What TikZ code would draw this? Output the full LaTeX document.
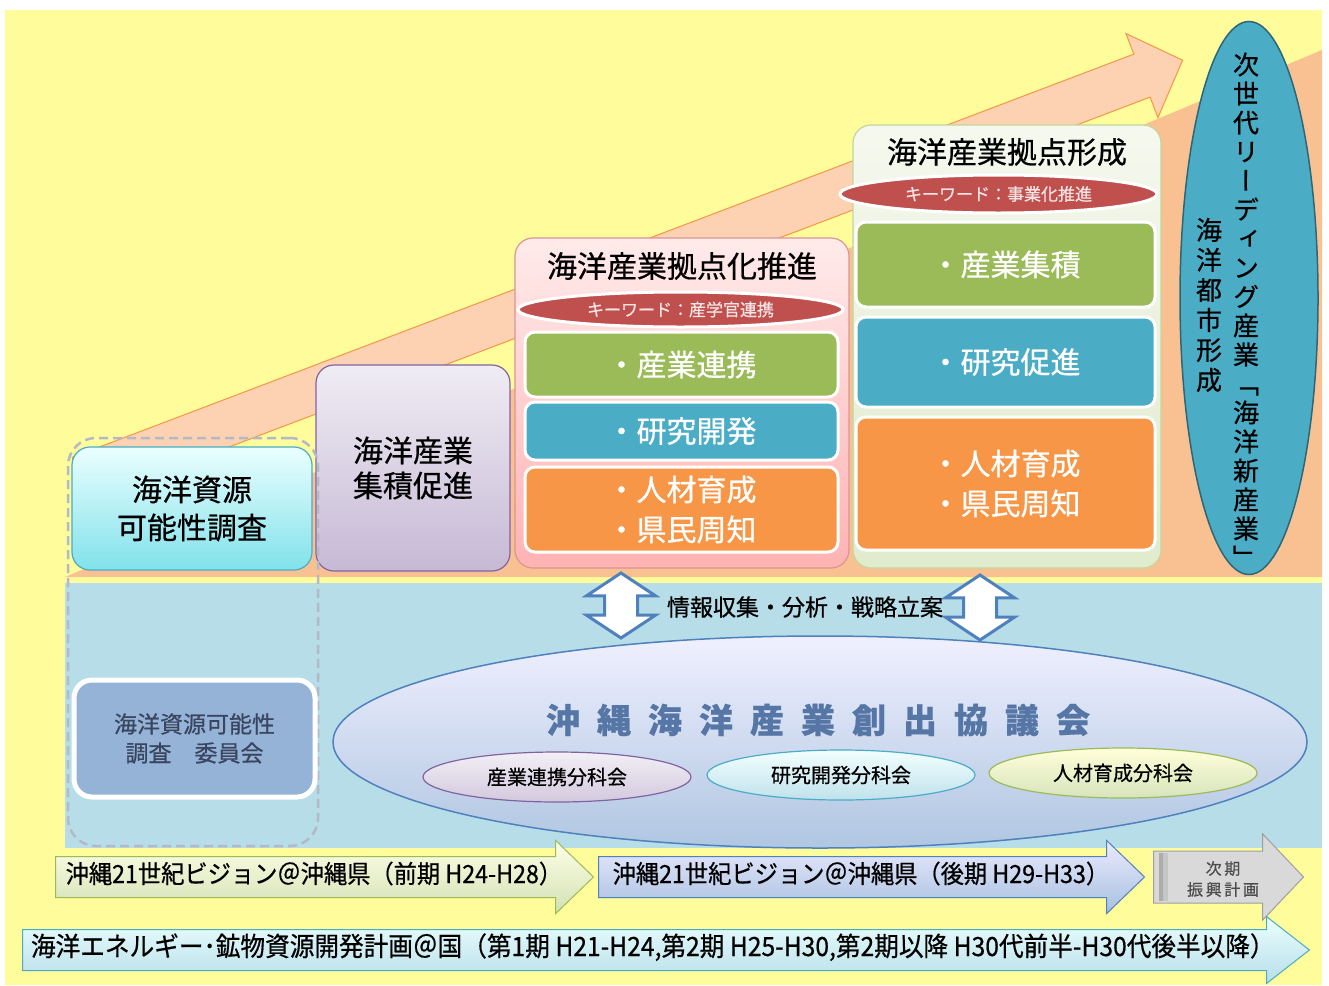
\documentclass[tikz,border=0pt]{standalone}
\usepackage{fontspec}
\setmainfont{Noto Sans CJK JP}[FakeBold=0.6]
\newfontfamily\vertfont[RawFeature=+vert,FakeBold=0.6]{Noto Sans CJK JP}
\newfontfamily\narrowfont[FakeStretch=0.93,FakeBold=0.6]{Noto Sans CJK JP}
\usetikzlibrary{shapes.geometric,shapes.arrows}
\definecolor{paper}{HTML}{FFFC9C}
\definecolor{wedge}{HTML}{F9C192}
\definecolor{risefill}{HTML}{FCD2B2}
\definecolor{riseline}{HTML}{F79646}
\definecolor{sea}{HTML}{B6DDE8}
\definecolor{kwred}{HTML}{C0504D}
\definecolor{itemgreen}{HTML}{9BBB59}
\definecolor{itemblue}{HTML}{4BACC6}
\definecolor{itemorange}{HTML}{F79646}
\definecolor{linkblue}{HTML}{4F81BD}
\definecolor{councilink}{HTML}{5676A6}
\definecolor{lavline}{HTML}{8064A2}
\definecolor{frameline}{HTML}{B3B9C6}
\definecolor{slate}{HTML}{3A4560}
\begin{document}
\begin{tikzpicture}[x=1pt, y=-1pt,
  stage/.style={draw, line width=1.2pt, rounded corners=18pt, align=center},
  item/.style={draw=white, line width=3pt, rounded corners=10pt, text=white, align=center, font=\fontsize{30}{40}\selectfont},
  keyword/.style={ellipse, draw=white, line width=3pt, fill=kwred, text=white!85!kwred, inner sep=0pt, font=\fontsize{17}{19}\selectfont},
  subgroup/.style={ellipse, draw, line width=1.2pt, inner sep=0pt, minimum width=268pt, minimum height=50pt, font=\fontsize{20}{22}\selectfont},
  plan/.style={single arrow, draw, line width=1pt, anchor=tail, inner xsep=8pt, inner ysep=9pt, text height=17pt, text depth=5pt, single arrow head extend=16pt, single arrow tip angle=88, font=\narrowfont\fontsize{25}{27}\selectfont},
  feedback/.style={double arrow, rotate=90, draw=linkblue, fill=white, line width=3pt, inner sep=15pt, minimum height=65pt, double arrow head extend=18pt, double arrow tip angle=113}
]
\useasboundingbox (0,0) rectangle (1329,985);
% backdrop
\fill[paper] (5,10) rectangle (1322,985);
\fill[wedge] (65,577) -- (1322,577) -- (1322,50) -- cycle;
\node[single arrow, anchor=tail, rotate=20.8, fill=risefill, draw=riseline, line width=1pt, inner xsep=0pt, inner ysep=22.5pt, minimum height=1179pt, single arrow head extend=22pt, single arrow tip angle=92] (rise) at (80,479) {};
\fill[sea] (65,583) rectangle (1322,848);

% steps
\node[stage, draw=itemblue, top color=cyan!8, bottom color=cyan!40!itemblue!60, minimum width=240pt, minimum height=123pt, font=\fontsize{30}{38}\selectfont] (survey) at (192,508.5) {海洋資源\\可能性調査};
\node[stage, draw=lavline, top color=lavline!12, bottom color=lavline!45, minimum width=194pt, minimum height=206pt, font=\fontsize{30}{35}\selectfont] (cluster) at (413,468) {海洋産業\\集積促進};

\node[stage, draw=kwred!60, top color=red!8, bottom color=red!30, minimum width=334pt, minimum height=330pt] (hubpush) at (682,403) {};
\node[font=\fontsize{30}{32}\selectfont] (hubpushtitle) at (682,266) {海洋産業拠点化推進};
\node[keyword, minimum width=325pt, minimum height=35pt] (kw1) at (680.5,309.5) {キーワード：産学官連携};
\node[item, fill=itemgreen, minimum width=313pt, minimum height=65pt] (link1) at (681.5,364.5) {・産業連携};
\node[item, fill=itemblue, minimum width=313pt, minimum height=58pt] (rd1) at (681.5,431) {・研究開発};
\node[item, fill=itemorange, minimum width=313pt, minimum height=85pt] (people1) at (681.5,509.5) {・人材育成\\・県民周知};

\node[stage, draw=itemgreen!60, top color=itemgreen!10, bottom color=itemgreen!30, minimum width=308pt, minimum height=443pt] (hubform) at (1007,346.5) {};
\node[font=\fontsize{30}{32}\selectfont] (hubformtitle) at (1007,152) {海洋産業拠点形成};
\node[keyword, minimum width=317pt, minimum height=38pt] (kw2) at (998.5,194) {キーワード：事業化推進};
\node[item, fill=itemgreen, minimum width=299pt, minimum height=85pt] (link2) at (1005.5,264.5) {・産業集積};
\node[item, fill=itemblue, minimum width=299pt, minimum height=90pt] (rd2) at (1005.5,362) {・研究促進};
\node[item, fill=itemorange, minimum width=299pt, minimum height=133pt] (people2) at (1005.5,483.5) {・人材育成\\・県民周知};

% goal
\node[ellipse, draw=itemblue!60!black, line width=1.5pt, fill=itemblue, minimum width=138pt, minimum height=553pt, inner sep=0pt] (goal) at (1249,298) {};
\node[font=\vertfont\fontsize{26}{29}\selectfont, align=center, inner sep=0pt] (goalmain) at (1246,310) {次\\世\\代\\リ\\ー\\デ\\ィ\\ン\\グ\\産\\業\\「\\海\\洋\\新\\産\\業\\」};
\node[font=\vertfont\fontsize{26}{30}\selectfont, align=center, inner sep=0pt] (goalcity) at (1209,305) {海\\洋\\都\\市\\形\\成};

% council
\node[feedback] (fb1) at (621,605.5) {};
\node[feedback] (fb2) at (980,607.5) {};
\node[font=\fontsize{23}{25}\selectfont] (analysis) at (805,607) {情報収集・分析・戦略立案};
\node[ellipse, draw=linkblue, line width=1.5pt, top color=blue!6!white, bottom color=linkblue!45, minimum width=974pt, minimum height=212pt, inner sep=0pt] (council) at (820,742) {};
\node[font=\fontsize{34}{36}\selectfont\bfseries, text=councilink] (councilname) at (818,720) {沖\hspace{17pt}縄\hspace{17pt}海\hspace{17pt}洋\hspace{17pt}産\hspace{17pt}業\hspace{17pt}創\hspace{17pt}出\hspace{17pt}協\hspace{17pt}議\hspace{17pt}会};
\node[subgroup, draw=lavline, top color=lavline!10, bottom color=lavline!35] (sub1) at (557,777) {産業連携分科会};
\node[subgroup, draw=itemblue, top color=cyan!5, bottom color=itemblue!35] (sub2) at (841,775) {研究開発分科会};
\node[subgroup, draw=itemgreen, top color=yellow!15, bottom color=itemgreen!40] (sub3) at (1123,773) {人材育成分科会};

\node[draw=frameline, dashed, dash pattern=on 9pt off 5pt, line width=2.5pt, rounded corners=28pt, minimum width=250pt, minimum height=408pt] (surveyframe) at (193,642) {};
\node[draw=white, line width=5pt, rounded corners=18pt, fill=linkblue!60, minimum width=241pt, minimum height=117pt, align=center, text=slate, font=\fontsize{23}{29}\selectfont] (committee) at (194.5,738.5) {海洋資源可能性\\調査　委員会};

% plans
\node[plan, draw=itemgreen, top color=yellow!10, bottom color=itemgreen!45, minimum height=538pt] (vision1) at (55,877) {沖縄21世紀ビジョン＠沖縄県（前期 H24-H28）};
\node[plan, draw=linkblue, top color=blue!8!white, bottom color=linkblue!50, minimum height=546pt] (vision2) at (598,877) {沖縄21世紀ビジョン＠沖縄県（後期 H29-H33）};
\node[plan, draw=gray!75, fill=gray!30, minimum height=150pt, inner ysep=14.5pt, single arrow head extend=17pt, single arrow tip angle=93] (nextplan) at (1153,877) {};
\fill[gray!65] (1159,853) rectangle (1163,901);
\fill[gray!45] (1163,853) rectangle (1168,901);
\node[font=\fontsize{16}{21}\selectfont, text=black!70, align=center] (nextplantext) at (1223,879) {次\,期\\振\,興\,計\,画};
\node[plan, draw=itemblue, top color=cyan!8, bottom color=itemblue!40, minimum height=1281pt, single arrow head extend=13pt, single arrow tip angle=76, font=\narrowfont\fontsize{26.5}{28}\selectfont] (oceanplan) at (22,950) {海洋エネルギー･鉱物資源開発計画＠国（第1期 H21-H24,第2期 H25-H30,第2期以降 H30代前半-H30代後半以降）};
\end{tikzpicture}
\end{document}
